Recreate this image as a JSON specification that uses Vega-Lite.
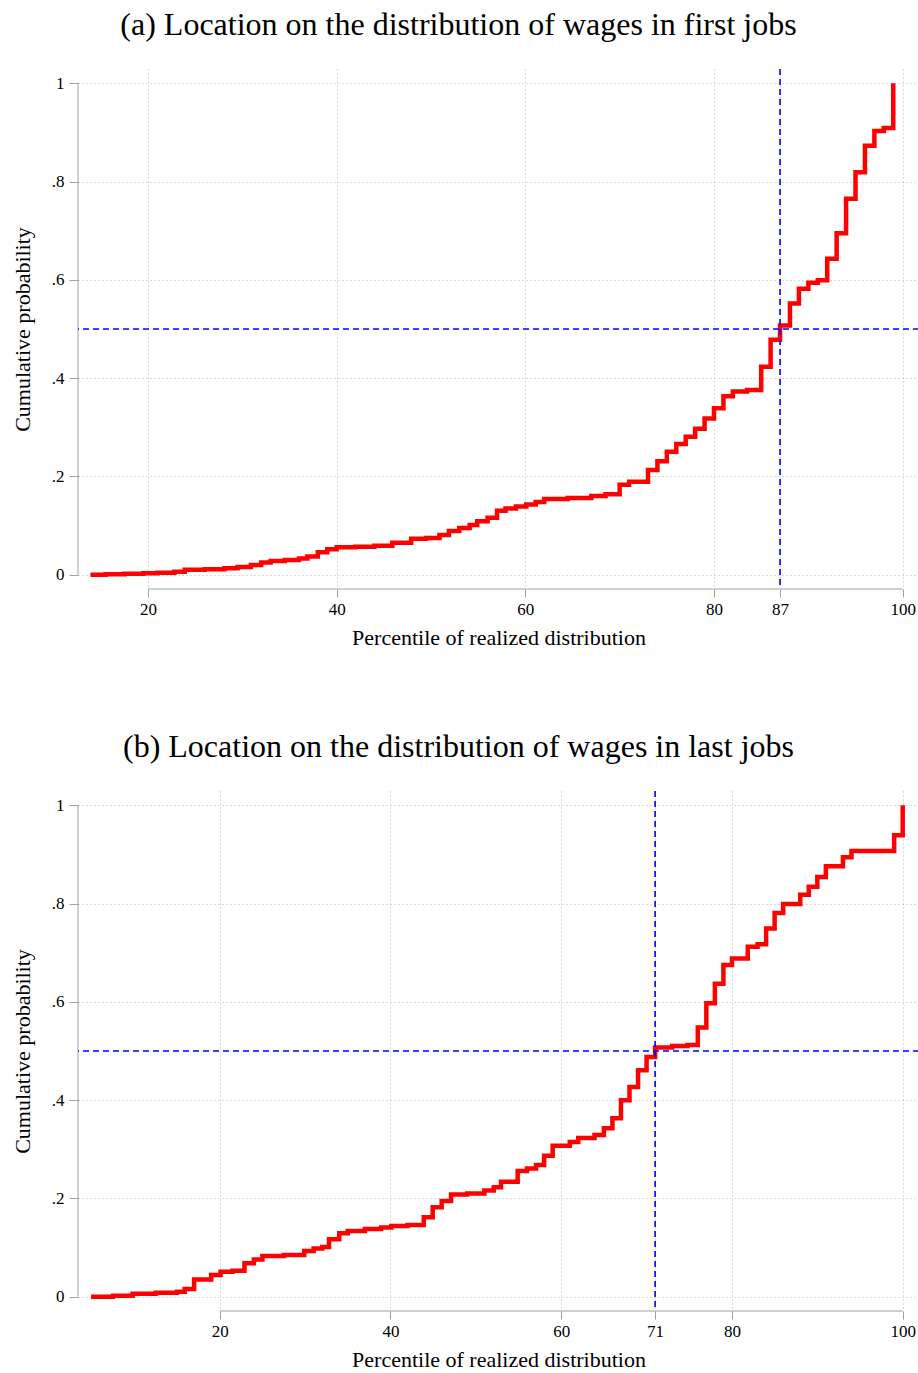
{
  "$schema": "https://vega.github.io/schema/vega-lite/v6.json",
  "background": "white",
  "autosize": {"type": "pad"},
  "padding": {"left": 11, "top": 9, "right": 0, "bottom": 0},
  "spacing": 202,
  "bounds": "flush",
  "config": {
    "view": {"stroke": null},
    "font": "Liberation Serif",
    "title": {"font": "Liberation Serif", "fontSize": 32, "fontWeight": "normal", "color": "#000000"},
    "axis": {
      "domain": false,
      "tickColor": "#a0a0a0",
      "tickWidth": 1,
      "grid": true,
      "gridColor": "#b4b4b4",
      "gridDash": [1, 3],
      "gridWidth": 1,
      "labelFont": "Liberation Serif",
      "labelFontSize": 17,
      "labelColor": "#000000",
      "titleFont": "Liberation Serif",
      "titleFontSize": 22,
      "titleFontWeight": "normal",
      "titleColor": "#000000"
    },
    "axisX": {"tickSize": 8, "labelPadding": 4, "titleY": 55, "titleBaseline": "alphabetic"},
    "axisY": {"tickSize": 9, "labelPadding": 5, "titleX": -49, "titleBaseline": "alphabetic"}
  },
  "datasets": {
    "first": [
      {"pct": 13.9, "cum": 0.000},
      {"pct": 15.5, "cum": 0.001},
      {"pct": 17.5, "cum": 0.002},
      {"pct": 19.5, "cum": 0.003},
      {"pct": 21.0, "cum": 0.004},
      {"pct": 22.8, "cum": 0.006},
      {"pct": 23.9, "cum": 0.010},
      {"pct": 26.0, "cum": 0.011},
      {"pct": 28.1, "cum": 0.013},
      {"pct": 29.5, "cum": 0.016},
      {"pct": 30.9, "cum": 0.020},
      {"pct": 32.0, "cum": 0.025},
      {"pct": 33.0, "cum": 0.028},
      {"pct": 34.5, "cum": 0.030},
      {"pct": 36.0, "cum": 0.033},
      {"pct": 36.9, "cum": 0.037},
      {"pct": 38.0, "cum": 0.046},
      {"pct": 39.0, "cum": 0.052},
      {"pct": 40.0, "cum": 0.056},
      {"pct": 42.0, "cum": 0.057},
      {"pct": 44.0, "cum": 0.059},
      {"pct": 45.9, "cum": 0.065},
      {"pct": 47.9, "cum": 0.073},
      {"pct": 49.5, "cum": 0.075},
      {"pct": 50.9, "cum": 0.081},
      {"pct": 51.9, "cum": 0.089},
      {"pct": 53.0, "cum": 0.095},
      {"pct": 54.1, "cum": 0.101},
      {"pct": 54.9, "cum": 0.109},
      {"pct": 56.0, "cum": 0.116},
      {"pct": 57.0, "cum": 0.130},
      {"pct": 57.9, "cum": 0.135},
      {"pct": 59.0, "cum": 0.139},
      {"pct": 60.1, "cum": 0.143},
      {"pct": 61.1, "cum": 0.148},
      {"pct": 62.0, "cum": 0.154},
      {"pct": 64.5, "cum": 0.156},
      {"pct": 67.0, "cum": 0.160},
      {"pct": 68.5, "cum": 0.164},
      {"pct": 70.0, "cum": 0.183},
      {"pct": 71.0, "cum": 0.189},
      {"pct": 73.0, "cum": 0.213},
      {"pct": 74.0, "cum": 0.231},
      {"pct": 75.0, "cum": 0.250},
      {"pct": 76.0, "cum": 0.266},
      {"pct": 77.0, "cum": 0.281},
      {"pct": 78.0, "cum": 0.297},
      {"pct": 79.0, "cum": 0.318},
      {"pct": 80.0, "cum": 0.339},
      {"pct": 81.0, "cum": 0.363},
      {"pct": 82.0, "cum": 0.373},
      {"pct": 83.5, "cum": 0.376},
      {"pct": 85.0, "cum": 0.423},
      {"pct": 86.0, "cum": 0.478},
      {"pct": 87.0, "cum": 0.507},
      {"pct": 88.05, "cum": 0.552},
      {"pct": 89.0, "cum": 0.582},
      {"pct": 90.0, "cum": 0.594},
      {"pct": 91.0, "cum": 0.599},
      {"pct": 92.0, "cum": 0.643},
      {"pct": 93.0, "cum": 0.695},
      {"pct": 94.0, "cum": 0.765},
      {"pct": 95.0, "cum": 0.819},
      {"pct": 96.0, "cum": 0.873},
      {"pct": 97.0, "cum": 0.903},
      {"pct": 98.0, "cum": 0.909},
      {"pct": 99.0, "cum": 1.000}
    ],
    "last": [
      {"pct": 4.93, "cum": 0.000},
      {"pct": 7.5, "cum": 0.002},
      {"pct": 9.8, "cum": 0.006},
      {"pct": 12.5, "cum": 0.008},
      {"pct": 15.0, "cum": 0.010},
      {"pct": 15.9, "cum": 0.016},
      {"pct": 17.0, "cum": 0.035},
      {"pct": 19.0, "cum": 0.044},
      {"pct": 20.1, "cum": 0.051},
      {"pct": 21.5, "cum": 0.053},
      {"pct": 22.9, "cum": 0.068},
      {"pct": 24.0, "cum": 0.076},
      {"pct": 25.0, "cum": 0.083},
      {"pct": 27.5, "cum": 0.085},
      {"pct": 29.9, "cum": 0.093},
      {"pct": 31.0, "cum": 0.098},
      {"pct": 32.0, "cum": 0.101},
      {"pct": 32.8, "cum": 0.117},
      {"pct": 34.0, "cum": 0.129},
      {"pct": 35.0, "cum": 0.134},
      {"pct": 37.0, "cum": 0.138},
      {"pct": 38.9, "cum": 0.141},
      {"pct": 40.1, "cum": 0.144},
      {"pct": 42.0, "cum": 0.146},
      {"pct": 43.9, "cum": 0.162},
      {"pct": 44.95, "cum": 0.182},
      {"pct": 46.0, "cum": 0.195},
      {"pct": 47.1, "cum": 0.208},
      {"pct": 49.0, "cum": 0.210},
      {"pct": 51.0, "cum": 0.216},
      {"pct": 52.1, "cum": 0.223},
      {"pct": 52.95, "cum": 0.234},
      {"pct": 54.9, "cum": 0.256},
      {"pct": 56.0, "cum": 0.261},
      {"pct": 57.05, "cum": 0.268},
      {"pct": 58.0, "cum": 0.287},
      {"pct": 59.0, "cum": 0.307},
      {"pct": 61.0, "cum": 0.315},
      {"pct": 62.0, "cum": 0.323},
      {"pct": 63.9, "cum": 0.329},
      {"pct": 65.0, "cum": 0.343},
      {"pct": 66.0, "cum": 0.363},
      {"pct": 67.0, "cum": 0.400},
      {"pct": 68.0, "cum": 0.427},
      {"pct": 69.0, "cum": 0.461},
      {"pct": 70.0, "cum": 0.488},
      {"pct": 71.0, "cum": 0.507},
      {"pct": 73.0, "cum": 0.510},
      {"pct": 74.8, "cum": 0.512},
      {"pct": 76.0, "cum": 0.548},
      {"pct": 77.0, "cum": 0.597},
      {"pct": 78.0, "cum": 0.637},
      {"pct": 79.0, "cum": 0.675},
      {"pct": 80.0, "cum": 0.688},
      {"pct": 81.85, "cum": 0.712},
      {"pct": 83.0, "cum": 0.717},
      {"pct": 84.0, "cum": 0.749},
      {"pct": 85.0, "cum": 0.781},
      {"pct": 86.0, "cum": 0.799},
      {"pct": 88.0, "cum": 0.818},
      {"pct": 89.0, "cum": 0.834},
      {"pct": 90.0, "cum": 0.854},
      {"pct": 91.0, "cum": 0.876},
      {"pct": 93.0, "cum": 0.894},
      {"pct": 94.0, "cum": 0.907},
      {"pct": 99.0, "cum": 0.939},
      {"pct": 100.0, "cum": 1.000}
    ]
  },
  "vconcat": [
    {
      "width": 841,
      "height": 520,
      "title": {"text": "(a) Location on the distribution of wages in first jobs", "anchor": "middle", "frame": "group", "dx": -40, "baseline": "alphabetic", "offset": 1},
      "layer": [
        {
          "data": {"name": "first"},
          "mark": {"type": "line", "interpolate": "step-after", "color": "#ff0000", "strokeWidth": 4.5},
          "encoding": {
            "x": {"field": "pct", "type": "quantitative", "title": "Percentile of realized distribution",
                  "scale": {"domain": [12.58, 101.73], "nice": false, "zero": false},
                  "axis": {"values": [20, 40, 60, 80, 87, 100]}},
            "y": {"field": "cum", "type": "quantitative", "title": "Cumulative probability",
                  "scale": {"domain": [-0.029, 1.029], "nice": false, "zero": false},
                  "axis": {"values": [0, 0.2, 0.4, 0.6, 0.8, 1], "labelExpr": "datum.value == 0 ? '0' : datum.value == 1 ? '1' : '.' + format(datum.value * 10, 'd')"}}
          }
        },
        {
          "data": {"values": [{}]},
          "mark": {"type": "rule", "color": "#a0a0a0", "strokeWidth": 1},
          "encoding": {"x": {"datum": 20}, "x2": {"datum": 100}, "y": {"datum": -0.029}}
        },
        {
          "data": {"values": [{}]},
          "mark": {"type": "rule", "color": "#a0a0a0", "strokeWidth": 1},
          "encoding": {"x": {"datum": 12.58}, "y": {"datum": 0}, "y2": {"datum": 1}}
        },
        {
          "data": {"values": [{}]},
          "mark": {"type": "rule", "color": "#0000ff", "strokeWidth": 1.6, "strokeDash": [6, 4]},
          "encoding": {"y": {"datum": 0.5}}
        },
        {
          "data": {"values": [{}]},
          "mark": {"type": "rule", "color": "#0000ff", "strokeWidth": 1.6, "strokeDash": [6, 4]},
          "encoding": {"x": {"datum": 87}}
        }
      ]
    },
    {
      "width": 841,
      "height": 520,
      "title": {"text": "(b) Location on the distribution of wages in last jobs", "anchor": "middle", "frame": "group", "dx": -40, "baseline": "alphabetic", "offset": 1},
      "layer": [
        {
          "data": {"name": "last"},
          "mark": {"type": "line", "interpolate": "step-after", "color": "#ff0000", "strokeWidth": 4.5},
          "encoding": {
            "x": {"field": "pct", "type": "quantitative", "title": "Percentile of realized distribution",
                  "scale": {"domain": [3.4, 101.91], "nice": false, "zero": false},
                  "axis": {"values": [20, 40, 60, 71, 80, 100]}},
            "y": {"field": "cum", "type": "quantitative", "title": "Cumulative probability",
                  "scale": {"domain": [-0.029, 1.029], "nice": false, "zero": false},
                  "axis": {"values": [0, 0.2, 0.4, 0.6, 0.8, 1], "labelExpr": "datum.value == 0 ? '0' : datum.value == 1 ? '1' : '.' + format(datum.value * 10, 'd')"}}
          }
        },
        {
          "data": {"values": [{}]},
          "mark": {"type": "rule", "color": "#a0a0a0", "strokeWidth": 1},
          "encoding": {"x": {"datum": 20}, "x2": {"datum": 100}, "y": {"datum": -0.029}}
        },
        {
          "data": {"values": [{}]},
          "mark": {"type": "rule", "color": "#a0a0a0", "strokeWidth": 1},
          "encoding": {"x": {"datum": 3.4}, "y": {"datum": 0}, "y2": {"datum": 1}}
        },
        {
          "data": {"values": [{}]},
          "mark": {"type": "rule", "color": "#0000ff", "strokeWidth": 1.6, "strokeDash": [6, 4]},
          "encoding": {"y": {"datum": 0.5}}
        },
        {
          "data": {"values": [{}]},
          "mark": {"type": "rule", "color": "#0000ff", "strokeWidth": 1.6, "strokeDash": [6, 4]},
          "encoding": {"x": {"datum": 71}}
        }
      ]
    }
  ]
}
